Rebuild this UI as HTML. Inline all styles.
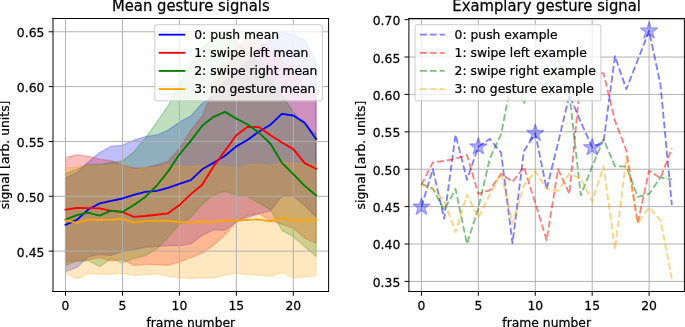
<!DOCTYPE html>
<html><head><meta charset="utf-8"><title>Gesture signals</title>
<style>html,body{margin:0;padding:0;background:#fff;}body{width:685px;height:327px;overflow:hidden;}svg{display:block;}svg text{stroke:#000;stroke-width:0.2px;}</style>
</head><body>
<svg width="685" height="327" viewBox="0 0 554.65587 264.777328" version="1.1">
 
 <defs>
  <style type="text/css">*{stroke-linejoin: round; stroke-linecap: butt}</style>
 </defs>
 <g id="figure_1">
  <g id="patch_1">
   <path d="M 0 264.777328 
L 554.65587 264.777328 
L 554.65587 0 
L 0 0 
z
" style="fill: #ffffff"/>
  </g>
  <g id="axes_1">
   <g id="patch_2">
    <path d="M 42.91498 236.032389 
L 266.072874 236.032389 
L 266.072874 14.979757 
L 42.91498 14.979757 
z
" style="fill: #ffffff"/>
   </g>
   <g id="FillBetweenPolyCollection_1">
    
    <g clip-path="url(#p7c5475c1c8)">
     <path d="M 53.05852 -120.576366 
L 53.05852 -44.908691 
L 62.279921 -48.194729 
L 71.501322 -56.809476 
L 80.722722 -58.852148 
L 89.944123 -57.96403 
L 99.165523 -60.983632 
L 108.386924 -62.493433 
L 117.608325 -64.624916 
L 126.829725 -65.068976 
L 136.051126 -65.868282 
L 145.272527 -65.868282 
L 154.493927 -67.200459 
L 163.715328 -74.216593 
L 172.936728 -78.834808 
L 182.158129 -78.301937 
L 191.37953 -84.962824 
L 200.60093 -88.604109 
L 209.822331 -91.712523 
L 219.043731 -94.110442 
L 228.265132 -106.011227 
L 237.486533 -106.011227 
L 246.707933 -98.37341 
L 255.929334 -89.048168 
L 255.929334 -215.338583 
L 255.929334 -215.338583 
L 246.707933 -232.301641 
L 237.486533 -236.564609 
L 228.265132 -239.05134 
L 219.043731 -233.545007 
L 209.822331 -224.93026 
L 200.60093 -214.7169 
L 191.37953 -207.523142 
L 182.158129 -199.086019 
L 172.936728 -187.185234 
L 163.715328 -181.14603 
L 154.493927 -170.755047 
L 145.272527 -165.870397 
L 136.051126 -159.475945 
L 126.829725 -155.479413 
L 117.608325 -154.147236 
L 108.386924 -151.305257 
L 99.165523 -147.131102 
L 89.944123 -146.420607 
L 80.722722 -141.269521 
L 71.501322 -133.542892 
L 62.279921 -125.283393 
L 53.05852 -120.576366 
z
" transform="translate(0 264.777328)" style="fill: #0000ff; fill-opacity: 0.25; stroke: #0000ff; stroke-opacity: 0.25; stroke: #0000ff; stroke-opacity: 0.25"/>
    </g>
   </g>
   <g id="FillBetweenPolyCollection_2">
    
    <g clip-path="url(#p7c5475c1c8)">
     <path d="M 53.05852 -137.272989 
L 53.05852 -52.724132 
L 62.279921 -53.61225 
L 71.501322 -54.322745 
L 80.722722 -56.276605 
L 89.944123 -53.345815 
L 99.165523 -54.944428 
L 108.386924 -49.70453 
L 117.608325 -50.770272 
L 126.829725 -50.503836 
L 136.051126 -49.970965 
L 145.272527 -52.724132 
L 154.493927 -56.098981 
L 163.715328 -59.829078 
L 172.936728 -66.134717 
L 182.158129 -74.483029 
L 191.37953 -85.140448 
L 200.60093 -90.380346 
L 209.822331 -91.623711 
L 219.043731 -86.028566 
L 228.265132 -83.186588 
L 237.486533 -80.078174 
L 246.707933 -71.907486 
L 255.929334 -67.644518 
L 255.929334 -188.4286 
L 255.929334 -188.4286 
L 246.707933 -193.402062 
L 237.486533 -207.967201 
L 228.265132 -215.516207 
L 219.043731 -224.575013 
L 209.822331 -231.946394 
L 200.60093 -233.722631 
L 191.37953 -225.463131 
L 182.158129 -210.897992 
L 172.936728 -194.023745 
L 163.715328 -170.666235 
L 154.493927 -159.120698 
L 145.272527 -144.733182 
L 136.051126 -134.164575 
L 126.829725 -131.322597 
L 117.608325 -128.924677 
L 108.386924 -128.747054 
L 99.165523 -131.322597 
L 89.944123 -134.697446 
L 80.722722 -135.852 
L 71.501322 -138.161107 
L 62.279921 -139.404473 
L 53.05852 -137.272989 
z
" transform="translate(0 264.777328)" style="fill: #ff0000; fill-opacity: 0.25; stroke: #ff0000; stroke-opacity: 0.25; stroke: #ff0000; stroke-opacity: 0.25"/>
    </g>
   </g>
   <g id="FillBetweenPolyCollection_3">
    
    <g clip-path="url(#p7c5475c1c8)">
     <path d="M 53.05852 -124.217651 
L 53.05852 -49.615718 
L 62.279921 -53.345815 
L 71.501322 -53.61225 
L 80.722722 -48.816412 
L 89.944123 -55.210863 
L 99.165523 -51.836014 
L 108.386924 -55.477298 
L 117.608325 -57.786406 
L 126.829725 -63.026304 
L 136.051126 -72.529169 
L 145.272527 -83.008964 
L 154.493927 -88.781733 
L 163.715328 -99.35034 
L 172.936728 -106.988157 
L 182.158129 -109.830135 
L 191.37953 -106.988157 
L 200.60093 -105.567168 
L 209.822331 -100.32727 
L 219.043731 -94.643313 
L 228.265132 -78.213126 
L 237.486533 -73.150852 
L 246.707933 -65.157787 
L 255.929334 -57.075911 
L 255.929334 -156.012284 
L 255.929334 -156.012284 
L 246.707933 -163.383665 
L 237.486533 -174.396332 
L 228.265132 -187.629294 
L 219.043731 -202.105621 
L 209.822331 -214.006406 
L 200.60093 -222.443529 
L 191.37953 -230.436593 
L 182.158129 -238.607281 
L 172.936728 -233.456195 
L 163.715328 -226.528873 
L 154.493927 -212.585416 
L 145.272527 -196.6881 
L 136.051126 -179.103358 
L 126.829725 -165.692773 
L 117.608325 -152.815058 
L 108.386924 -141.980016 
L 99.165523 -134.431011 
L 89.944123 -133.365269 
L 80.722722 -131.589032 
L 71.501322 -131.766656 
L 62.279921 -127.947747 
L 53.05852 -124.217651 
z
" transform="translate(0 264.777328)" style="fill: #008000; fill-opacity: 0.25; stroke: #008000; stroke-opacity: 0.25; stroke: #008000; stroke-opacity: 0.25"/>
    </g>
   </g>
   <g id="FillBetweenPolyCollection_4">
    
    <g clip-path="url(#p7c5475c1c8)">
     <path d="M 53.05852 -129.191113 
L 53.05852 -43.576514 
L 62.279921 -39.135923 
L 71.501322 -43.043643 
L 80.722722 -42.777208 
L 89.944123 -42.777208 
L 99.165523 -43.39889 
L 108.386924 -41.711466 
L 117.608325 -42.244337 
L 126.829725 -43.043643 
L 136.051126 -41.089783 
L 145.272527 -39.846417 
L 154.493927 -39.224735 
L 163.715328 -39.935229 
L 172.936728 -39.668794 
L 182.158129 -42.066713 
L 191.37953 -43.576514 
L 200.60093 -42.333148 
L 209.822331 -41.889089 
L 219.043731 -40.912159 
L 228.265132 -43.931761 
L 237.486533 -39.846417 
L 246.707933 -40.556912 
L 255.929334 -41.622654 
L 255.929334 -131.855468 
L 255.929334 -131.855468 
L 246.707933 -132.388339 
L 237.486533 -132.565962 
L 228.265132 -133.098833 
L 219.043731 -130.256855 
L 209.822331 -132.121903 
L 200.60093 -131.144973 
L 191.37953 -128.835866 
L 182.158129 -129.990419 
L 172.936728 -130.256855 
L 163.715328 -130.878538 
L 154.493927 -129.812796 
L 145.272527 -130.434479 
L 136.051126 -130.789726 
L 126.829725 -129.013489 
L 117.608325 -129.279925 
L 108.386924 -127.326065 
L 99.165523 -131.855468 
L 89.944123 -130.700914 
L 80.722722 -130.700914 
L 71.501322 -130.789726 
L 62.279921 -129.368737 
L 53.05852 -129.191113 
z
" transform="translate(0 264.777328)" style="fill: #ffa500; fill-opacity: 0.25; stroke: #ffa500; stroke-opacity: 0.25; stroke: #ffa500; stroke-opacity: 0.25"/>
    </g>
   </g>
   <g id="matplotlib.axis_1">
    <g id="xtick_1">
     <g id="line2d_1">
      <path d="M 53.05852 236.032389 
L 53.05852 14.979757 
" clip-path="url(#p7c5475c1c8)" style="fill: none; stroke: #b0b0b0; stroke-width: 0.8; stroke-linecap: square"/>
     </g>
     <g id="line2d_2">
      
      <g>
       <path d="M 0 0 
L 0 3.5 
" transform="translate(53.05852 236.032389)" style="stroke: #000000; stroke-width: 0.8; stroke: #000000; stroke-width: 0.8"/>
      </g>
     </g>
     <g id="text_1">
      <text style="font-size: 10px; font-family: 'DejaVu Sans', 'Liberation Sans', sans-serif; text-anchor: middle" x="53.05852" y="250.630826" transform="translate(53.05852 250.630826) rotate(-0) scale(1 1.05) translate(-53.05852 -250.630826)">0</text>
     </g>
    </g>
    <g id="xtick_2">
     <g id="line2d_3">
      <path d="M 99.165523 236.032389 
L 99.165523 14.979757 
" clip-path="url(#p7c5475c1c8)" style="fill: none; stroke: #b0b0b0; stroke-width: 0.8; stroke-linecap: square"/>
     </g>
     <g id="line2d_4">
      <g>
       <path d="M 0 0 
L 0 3.5 
" transform="translate(99.165523 236.032389)" style="stroke: #000000; stroke-width: 0.8; stroke: #000000; stroke-width: 0.8"/>
      </g>
     </g>
     <g id="text_2">
      <text style="font-size: 10px; font-family: 'DejaVu Sans', 'Liberation Sans', sans-serif; text-anchor: middle" x="99.165523" y="250.630826" transform="translate(99.165523 250.630826) rotate(-0) scale(1 1.05) translate(-99.165523 -250.630826)">5</text>
     </g>
    </g>
    <g id="xtick_3">
     <g id="line2d_5">
      <path d="M 145.272527 236.032389 
L 145.272527 14.979757 
" clip-path="url(#p7c5475c1c8)" style="fill: none; stroke: #b0b0b0; stroke-width: 0.8; stroke-linecap: square"/>
     </g>
     <g id="line2d_6">
      <g>
       <path d="M 0 0 
L 0 3.5 
" transform="translate(145.272527 236.032389)" style="stroke: #000000; stroke-width: 0.8; stroke: #000000; stroke-width: 0.8"/>
      </g>
     </g>
     <g id="text_3">
      <text style="font-size: 10px; font-family: 'DejaVu Sans', 'Liberation Sans', sans-serif; text-anchor: middle" x="145.272527" y="250.630826" transform="translate(145.272527 250.630826) rotate(-0) scale(1 1.05) translate(-145.272527 -250.630826)">10</text>
     </g>
    </g>
    <g id="xtick_4">
     <g id="line2d_7">
      <path d="M 191.37953 236.032389 
L 191.37953 14.979757 
" clip-path="url(#p7c5475c1c8)" style="fill: none; stroke: #b0b0b0; stroke-width: 0.8; stroke-linecap: square"/>
     </g>
     <g id="line2d_8">
      <g>
       <path d="M 0 0 
L 0 3.5 
" transform="translate(191.37953 236.032389)" style="stroke: #000000; stroke-width: 0.8; stroke: #000000; stroke-width: 0.8"/>
      </g>
     </g>
     <g id="text_4">
      <text style="font-size: 10px; font-family: 'DejaVu Sans', 'Liberation Sans', sans-serif; text-anchor: middle" x="191.37953" y="250.630826" transform="translate(191.37953 250.630826) rotate(-0) scale(1 1.05) translate(-191.37953 -250.630826)">15</text>
     </g>
    </g>
    <g id="xtick_5">
     <g id="line2d_9">
      <path d="M 237.486533 236.032389 
L 237.486533 14.979757 
" clip-path="url(#p7c5475c1c8)" style="fill: none; stroke: #b0b0b0; stroke-width: 0.8; stroke-linecap: square"/>
     </g>
     <g id="line2d_10">
      <g>
       <path d="M 0 0 
L 0 3.5 
" transform="translate(237.486533 236.032389)" style="stroke: #000000; stroke-width: 0.8; stroke: #000000; stroke-width: 0.8"/>
      </g>
     </g>
     <g id="text_5">
      <text style="font-size: 10px; font-family: 'DejaVu Sans', 'Liberation Sans', sans-serif; text-anchor: middle" x="237.486533" y="250.630826" transform="translate(237.486533 250.630826) rotate(-0) scale(1 1.05) translate(-237.486533 -250.630826)">20</text>
     </g>
    </g>
    <g id="text_6">
     <text style="font-size: 10px; font-family: 'DejaVu Sans', 'Liberation Sans', sans-serif; text-anchor: middle" x="154.493927" y="265.118668" transform="translate(154.493927 265.118668) rotate(-0) scale(1 1.05) translate(-154.493927 -265.118668)">frame number</text>
    </g>
   </g>
   <g id="matplotlib.axis_2">
    <g id="ytick_1">
     <g id="line2d_11">
      <path d="M 42.91498 203.349637 
L 266.072874 203.349637 
" clip-path="url(#p7c5475c1c8)" style="fill: none; stroke: #b0b0b0; stroke-width: 0.8; stroke-linecap: square"/>
     </g>
     <g id="line2d_12">
      
      <g>
       <path d="M 0 0 
L -3.5 0 
" transform="translate(42.91498 203.349637)" style="stroke: #000000; stroke-width: 0.8; stroke: #000000; stroke-width: 0.8"/>
      </g>
     </g>
     <g id="text_7">
      <text style="font-size: 10px; font-family: 'DejaVu Sans', 'Liberation Sans', sans-serif; text-anchor: end" x="35.91498" y="207.148856" transform="translate(0 0.647773) translate(35.91498 207.148856) rotate(-0) scale(1 1.05) translate(-35.91498 -207.148856)">0.45</text>
     </g>
    </g>
    <g id="ytick_2">
     <g id="line2d_13">
      <path d="M 42.91498 158.943725 
L 266.072874 158.943725 
" clip-path="url(#p7c5475c1c8)" style="fill: none; stroke: #b0b0b0; stroke-width: 0.8; stroke-linecap: square"/>
     </g>
     <g id="line2d_14">
      <g>
       <path d="M 0 0 
L -3.5 0 
" transform="translate(42.91498 158.943725)" style="stroke: #000000; stroke-width: 0.8; stroke: #000000; stroke-width: 0.8"/>
      </g>
     </g>
     <g id="text_8">
      <text style="font-size: 10px; font-family: 'DejaVu Sans', 'Liberation Sans', sans-serif; text-anchor: end" x="35.91498" y="162.742944" transform="translate(0 0.647773) translate(35.91498 162.742944) rotate(-0) scale(1 1.05) translate(-35.91498 -162.742944)">0.50</text>
     </g>
    </g>
    <g id="ytick_3">
     <g id="line2d_15">
      <path d="M 42.91498 114.537813 
L 266.072874 114.537813 
" clip-path="url(#p7c5475c1c8)" style="fill: none; stroke: #b0b0b0; stroke-width: 0.8; stroke-linecap: square"/>
     </g>
     <g id="line2d_16">
      <g>
       <path d="M 0 0 
L -3.5 0 
" transform="translate(42.91498 114.537813)" style="stroke: #000000; stroke-width: 0.8; stroke: #000000; stroke-width: 0.8"/>
      </g>
     </g>
     <g id="text_9">
      <text style="font-size: 10px; font-family: 'DejaVu Sans', 'Liberation Sans', sans-serif; text-anchor: end" x="35.91498" y="118.337031" transform="translate(0 0.647773) translate(35.91498 118.337031) rotate(-0) scale(1 1.05) translate(-35.91498 -118.337031)">0.55</text>
     </g>
    </g>
    <g id="ytick_4">
     <g id="line2d_17">
      <path d="M 42.91498 70.1319 
L 266.072874 70.1319 
" clip-path="url(#p7c5475c1c8)" style="fill: none; stroke: #b0b0b0; stroke-width: 0.8; stroke-linecap: square"/>
     </g>
     <g id="line2d_18">
      <g>
       <path d="M 0 0 
L -3.5 0 
" transform="translate(42.91498 70.1319)" style="stroke: #000000; stroke-width: 0.8; stroke: #000000; stroke-width: 0.8"/>
      </g>
     </g>
     <g id="text_10">
      <text style="font-size: 10px; font-family: 'DejaVu Sans', 'Liberation Sans', sans-serif; text-anchor: end" x="35.91498" y="73.931119" transform="translate(0 0.647773) translate(35.91498 73.931119) rotate(-0) scale(1 1.05) translate(-35.91498 -73.931119)">0.60</text>
     </g>
    </g>
    <g id="ytick_5">
     <g id="line2d_19">
      <path d="M 42.91498 25.725988 
L 266.072874 25.725988 
" clip-path="url(#p7c5475c1c8)" style="fill: none; stroke: #b0b0b0; stroke-width: 0.8; stroke-linecap: square"/>
     </g>
     <g id="line2d_20">
      <g>
       <path d="M 0 0 
L -3.5 0 
" transform="translate(42.91498 25.725988)" style="stroke: #000000; stroke-width: 0.8; stroke: #000000; stroke-width: 0.8"/>
      </g>
     </g>
     <g id="text_11">
      <text style="font-size: 10px; font-family: 'DejaVu Sans', 'Liberation Sans', sans-serif; text-anchor: end" x="35.91498" y="29.525207" transform="translate(0 0.647773) translate(35.91498 29.525207) rotate(-0) scale(1 1.05) translate(-35.91498 -29.525207)">0.65</text>
     </g>
    </g>
    <g id="text_12">
     <text style="font-size: 10px; font-family: 'DejaVu Sans', 'Liberation Sans', sans-serif; text-anchor: middle" x="7.569667" y="125.506073" transform="translate(7.569667 125.506073) rotate(-90) scale(1 1.05) translate(-7.569667 -125.506073)">signal [arb. units]</text>
    </g>
   </g>
   <g id="line2d_21">
    <path d="M 53.05852 182.034799 
L 62.279921 178.038267 
L 71.501322 169.601144 
L 80.722722 164.716493 
L 89.944123 162.58501 
L 99.165523 160.719961 
L 108.386924 157.877983 
L 117.608325 155.391252 
L 126.829725 154.503134 
L 136.051126 152.105214 
L 145.272527 148.907989 
L 154.493927 145.799575 
L 163.715328 137.096016 
L 172.936728 131.767307 
L 182.158129 126.08335 
L 191.37953 118.534345 
L 200.60093 113.116823 
L 209.822331 106.455936 
L 219.043731 100.949603 
L 228.265132 92.246045 
L 237.486533 93.48941 
L 246.707933 99.439802 
L 255.929334 112.583952 
" clip-path="url(#p7c5475c1c8)" style="fill: none; stroke: #0000ff; stroke-width: 1.5; stroke-linecap: square"/>
   </g>
   <g id="line2d_22">
    <path d="M 53.05852 169.778767 
L 62.279921 168.268966 
L 71.501322 168.535402 
L 80.722722 168.713026 
L 89.944123 170.755698 
L 99.165523 171.643816 
L 108.386924 175.551536 
L 117.608325 174.929853 
L 126.829725 173.864111 
L 136.051126 172.709558 
L 145.272527 166.048671 
L 154.493927 157.167488 
L 163.715328 149.529671 
L 172.936728 134.698097 
L 182.158129 122.086818 
L 191.37953 109.475539 
L 200.60093 102.72584 
L 209.822331 102.992275 
L 219.043731 109.475539 
L 228.265132 115.425931 
L 237.486533 120.75464 
L 246.707933 132.122554 
L 255.929334 136.740769 
" clip-path="url(#p7c5475c1c8)" style="fill: none; stroke: #ff0000; stroke-width: 1.5; stroke-linecap: square"/>
   </g>
   <g id="line2d_23">
    <path d="M 53.05852 177.860644 
L 62.279921 174.130547 
L 71.501322 172.087875 
L 80.722722 174.574606 
L 89.944123 170.489262 
L 99.165523 171.643816 
L 108.386924 166.048671 
L 117.608325 159.476596 
L 126.829725 150.41779 
L 136.051126 138.961064 
L 145.272527 124.928796 
L 154.493927 114.093753 
L 163.715328 101.837722 
L 172.936728 94.555152 
L 182.158129 90.55862 
L 191.37953 96.064953 
L 200.60093 100.77198 
L 209.822331 107.61049 
L 219.043731 116.402861 
L 228.265132 131.856118 
L 237.486533 141.003736 
L 246.707933 150.506602 
L 255.929334 158.23323 
" clip-path="url(#p7c5475c1c8)" style="fill: none; stroke: #008000; stroke-width: 1.5; stroke-linecap: square"/>
   </g>
   <g id="line2d_24">
    <path d="M 53.05852 178.393514 
L 62.279921 180.524998 
L 71.501322 177.860644 
L 80.722722 178.038267 
L 89.944123 178.038267 
L 99.165523 177.150149 
L 108.386924 180.258563 
L 117.608325 179.015197 
L 126.829725 178.748762 
L 136.051126 178.837574 
L 145.272527 179.63688 
L 154.493927 180.258563 
L 163.715328 179.370445 
L 172.936728 179.814504 
L 182.158129 178.748762 
L 191.37953 178.571138 
L 200.60093 178.038267 
L 209.822331 177.771832 
L 219.043731 179.192821 
L 228.265132 176.262031 
L 237.486533 178.571138 
L 246.707933 178.304703 
L 255.929334 178.038267 
" clip-path="url(#p7c5475c1c8)" style="fill: none; stroke: #ffa500; stroke-width: 1.5; stroke-linecap: square"/>
   </g>
   <g id="patch_3">
    <path d="M 42.91498 236.032389 
L 42.91498 14.979757 
" style="fill: none; stroke: #000000; stroke-width: 0.8; stroke-linejoin: miter; stroke-linecap: square"/>
   </g>
   <g id="patch_4">
    <path d="M 266.072874 236.032389 
L 266.072874 14.979757 
" style="fill: none; stroke: #000000; stroke-width: 0.8; stroke-linejoin: miter; stroke-linecap: square"/>
   </g>
   <g id="patch_5">
    <path d="M 42.91498 236.032389 
L 266.072874 236.032389 
" style="fill: none; stroke: #000000; stroke-width: 0.8; stroke-linejoin: miter; stroke-linecap: square"/>
   </g>
   <g id="patch_6">
    <path d="M 42.91498 14.979757 
L 266.072874 14.979757 
" style="fill: none; stroke: #000000; stroke-width: 0.8; stroke-linejoin: miter; stroke-linecap: square"/>
   </g>
   <g id="text_13">
    <text style="font-size: 12px; font-family: 'DejaVu Sans', 'Liberation Sans', sans-serif; text-anchor: middle" x="154.493927" y="8.979757" transform="translate(154.493927 8.979757) rotate(-0) scale(1 1.05) translate(-154.493927 -8.979757)">Mean gesture signals</text>
   </g>
   <g id="legend_1">
    <g id="patch_7">
     <path d="M 127.285374 81.692257 
L 259.072874 81.692257 
Q 261.072874 81.692257 261.072874 79.692257 
L 261.072874 21.979757 
Q 261.072874 19.979757 259.072874 19.979757 
L 127.285374 19.979757 
Q 125.285374 19.979757 125.285374 21.979757 
L 125.285374 79.692257 
Q 125.285374 81.692257 127.285374 81.692257 
z
" style="fill: #ffffff; opacity: 0.8; stroke: #cccccc; stroke-linejoin: miter"/>
    </g>
    <g id="line2d_25">
     <path d="M 129.285374 28.078195 
L 139.285374 28.078195 
L 149.285374 28.078195 
" style="fill: none; stroke: #0000ff; stroke-width: 1.5; stroke-linecap: square"/>
    </g>
    <g id="text_14">
     <text style="font-size: 10px; font-family: 'DejaVu Sans', 'Liberation Sans', sans-serif; text-anchor: start" x="157.285374" y="31.578195" transform="rotate(-0 157.285374 31.578195)">0: push mean</text>
    </g>
    <g id="line2d_26">
     <path d="M 129.285374 42.75632 
L 139.285374 42.75632 
L 149.285374 42.75632 
" style="fill: none; stroke: #ff0000; stroke-width: 1.5; stroke-linecap: square"/>
    </g>
    <g id="text_15">
     <text style="font-size: 10px; font-family: 'DejaVu Sans', 'Liberation Sans', sans-serif; text-anchor: start" x="157.285374" y="46.25632" transform="rotate(-0 157.285374 46.25632)">1: swipe left mean</text>
    </g>
    <g id="line2d_27">
     <path d="M 129.285374 57.434445 
L 139.285374 57.434445 
L 149.285374 57.434445 
" style="fill: none; stroke: #008000; stroke-width: 1.5; stroke-linecap: square"/>
    </g>
    <g id="text_16">
     <text style="font-size: 10px; font-family: 'DejaVu Sans', 'Liberation Sans', sans-serif; text-anchor: start" x="157.285374" y="60.934445" transform="rotate(-0 157.285374 60.934445)">2: swipe right mean</text>
    </g>
    <g id="line2d_28">
     <path d="M 129.285374 72.11257 
L 139.285374 72.11257 
L 149.285374 72.11257 
" style="fill: none; stroke: #ffa500; stroke-width: 1.5; stroke-linecap: square"/>
    </g>
    <g id="text_17">
     <text style="font-size: 10px; font-family: 'DejaVu Sans', 'Liberation Sans', sans-serif; text-anchor: start" x="157.285374" y="75.61257" transform="rotate(-0 157.285374 75.61257)">3: no gesture mean</text>
    </g>
   </g>
  </g>
  <g id="axes_2">
   <g id="patch_8">
    <path d="M 331.093117 236.032389 
L 554.17004 236.032389 
L 554.17004 14.979757 
L 331.093117 14.979757 
z
" style="fill: #ffffff"/>
   </g>
   <g id="matplotlib.axis_3">
    <g id="xtick_6">
     <g id="line2d_29">
      <path d="M 341.232978 236.032389 
L 341.232978 14.979757 
" clip-path="url(#p5860978ac2)" style="fill: none; stroke: #b0b0b0; stroke-width: 0.8; stroke-linecap: square"/>
     </g>
     <g id="line2d_30">
      <g>
       <path d="M 0 0 
L 0 3.5 
" transform="translate(341.232978 236.032389)" style="stroke: #000000; stroke-width: 0.8; stroke: #000000; stroke-width: 0.8"/>
      </g>
     </g>
     <g id="text_18">
      <text style="font-size: 10px; font-family: 'DejaVu Sans', 'Liberation Sans', sans-serif; text-anchor: middle" x="341.232978" y="250.630826" transform="translate(341.232978 250.630826) rotate(-0) scale(1 1.05) translate(-341.232978 -250.630826)">0</text>
     </g>
    </g>
    <g id="xtick_7">
     <g id="line2d_31">
      <path d="M 387.323251 236.032389 
L 387.323251 14.979757 
" clip-path="url(#p5860978ac2)" style="fill: none; stroke: #b0b0b0; stroke-width: 0.8; stroke-linecap: square"/>
     </g>
     <g id="line2d_32">
      <g>
       <path d="M 0 0 
L 0 3.5 
" transform="translate(387.323251 236.032389)" style="stroke: #000000; stroke-width: 0.8; stroke: #000000; stroke-width: 0.8"/>
      </g>
     </g>
     <g id="text_19">
      <text style="font-size: 10px; font-family: 'DejaVu Sans', 'Liberation Sans', sans-serif; text-anchor: middle" x="387.323251" y="250.630826" transform="translate(387.323251 250.630826) rotate(-0) scale(1 1.05) translate(-387.323251 -250.630826)">5</text>
     </g>
    </g>
    <g id="xtick_8">
     <g id="line2d_33">
      <path d="M 433.413524 236.032389 
L 433.413524 14.979757 
" clip-path="url(#p5860978ac2)" style="fill: none; stroke: #b0b0b0; stroke-width: 0.8; stroke-linecap: square"/>
     </g>
     <g id="line2d_34">
      <g>
       <path d="M 0 0 
L 0 3.5 
" transform="translate(433.413524 236.032389)" style="stroke: #000000; stroke-width: 0.8; stroke: #000000; stroke-width: 0.8"/>
      </g>
     </g>
     <g id="text_20">
      <text style="font-size: 10px; font-family: 'DejaVu Sans', 'Liberation Sans', sans-serif; text-anchor: middle" x="433.413524" y="250.630826" transform="translate(433.413524 250.630826) rotate(-0) scale(1 1.05) translate(-433.413524 -250.630826)">10</text>
     </g>
    </g>
    <g id="xtick_9">
     <g id="line2d_35">
      <path d="M 479.503798 236.032389 
L 479.503798 14.979757 
" clip-path="url(#p5860978ac2)" style="fill: none; stroke: #b0b0b0; stroke-width: 0.8; stroke-linecap: square"/>
     </g>
     <g id="line2d_36">
      <g>
       <path d="M 0 0 
L 0 3.5 
" transform="translate(479.503798 236.032389)" style="stroke: #000000; stroke-width: 0.8; stroke: #000000; stroke-width: 0.8"/>
      </g>
     </g>
     <g id="text_21">
      <text style="font-size: 10px; font-family: 'DejaVu Sans', 'Liberation Sans', sans-serif; text-anchor: middle" x="479.503798" y="250.630826" transform="translate(479.503798 250.630826) rotate(-0) scale(1 1.05) translate(-479.503798 -250.630826)">15</text>
     </g>
    </g>
    <g id="xtick_10">
     <g id="line2d_37">
      <path d="M 525.594071 236.032389 
L 525.594071 14.979757 
" clip-path="url(#p5860978ac2)" style="fill: none; stroke: #b0b0b0; stroke-width: 0.8; stroke-linecap: square"/>
     </g>
     <g id="line2d_38">
      <g>
       <path d="M 0 0 
L 0 3.5 
" transform="translate(525.594071 236.032389)" style="stroke: #000000; stroke-width: 0.8; stroke: #000000; stroke-width: 0.8"/>
      </g>
     </g>
     <g id="text_22">
      <text style="font-size: 10px; font-family: 'DejaVu Sans', 'Liberation Sans', sans-serif; text-anchor: middle" x="525.594071" y="250.630826" transform="translate(525.594071 250.630826) rotate(-0) scale(1 1.05) translate(-525.594071 -250.630826)">20</text>
     </g>
    </g>
    <g id="text_23">
     <text style="font-size: 10px; font-family: 'DejaVu Sans', 'Liberation Sans', sans-serif; text-anchor: middle" x="442.631579" y="265.118668" transform="translate(442.631579 265.118668) rotate(-0) scale(1 1.05) translate(-442.631579 -265.118668)">frame number</text>
    </g>
   </g>
   <g id="matplotlib.axis_4">
    <g id="ytick_6">
     <g id="line2d_39">
      <path d="M 331.093117 227.856469 
L 554.17004 227.856469 
" clip-path="url(#p5860978ac2)" style="fill: none; stroke: #b0b0b0; stroke-width: 0.8; stroke-linecap: square"/>
     </g>
     <g id="line2d_40">
      <g>
       <path d="M 0 0 
L -3.5 0 
" transform="translate(331.093117 227.856469)" style="stroke: #000000; stroke-width: 0.8; stroke: #000000; stroke-width: 0.8"/>
      </g>
     </g>
     <g id="text_24">
      <text style="font-size: 10px; font-family: 'DejaVu Sans', 'Liberation Sans', sans-serif; text-anchor: end" x="324.093117" y="231.655688" transform="translate(0 0.647773) translate(324.093117 231.655688) rotate(-0) scale(1 1.05) translate(-324.093117 -231.655688)">0.35</text>
     </g>
    </g>
    <g id="ytick_7">
     <g id="line2d_41">
      <path d="M 331.093117 197.575287 
L 554.17004 197.575287 
" clip-path="url(#p5860978ac2)" style="fill: none; stroke: #b0b0b0; stroke-width: 0.8; stroke-linecap: square"/>
     </g>
     <g id="line2d_42">
      <g>
       <path d="M 0 0 
L -3.5 0 
" transform="translate(331.093117 197.575287)" style="stroke: #000000; stroke-width: 0.8; stroke: #000000; stroke-width: 0.8"/>
      </g>
     </g>
     <g id="text_25">
      <text style="font-size: 10px; font-family: 'DejaVu Sans', 'Liberation Sans', sans-serif; text-anchor: end" x="324.093117" y="201.374506" transform="translate(0 0.647773) translate(324.093117 201.374506) rotate(-0) scale(1 1.05) translate(-324.093117 -201.374506)">0.40</text>
     </g>
    </g>
    <g id="ytick_8">
     <g id="line2d_43">
      <path d="M 331.093117 167.294105 
L 554.17004 167.294105 
" clip-path="url(#p5860978ac2)" style="fill: none; stroke: #b0b0b0; stroke-width: 0.8; stroke-linecap: square"/>
     </g>
     <g id="line2d_44">
      <g>
       <path d="M 0 0 
L -3.5 0 
" transform="translate(331.093117 167.294105)" style="stroke: #000000; stroke-width: 0.8; stroke: #000000; stroke-width: 0.8"/>
      </g>
     </g>
     <g id="text_26">
      <text style="font-size: 10px; font-family: 'DejaVu Sans', 'Liberation Sans', sans-serif; text-anchor: end" x="324.093117" y="171.093323" transform="translate(0 0.647773) translate(324.093117 171.093323) rotate(-0) scale(1 1.05) translate(-324.093117 -171.093323)">0.45</text>
     </g>
    </g>
    <g id="ytick_9">
     <g id="line2d_45">
      <path d="M 331.093117 137.012922 
L 554.17004 137.012922 
" clip-path="url(#p5860978ac2)" style="fill: none; stroke: #b0b0b0; stroke-width: 0.8; stroke-linecap: square"/>
     </g>
     <g id="line2d_46">
      <g>
       <path d="M 0 0 
L -3.5 0 
" transform="translate(331.093117 137.012922)" style="stroke: #000000; stroke-width: 0.8; stroke: #000000; stroke-width: 0.8"/>
      </g>
     </g>
     <g id="text_27">
      <text style="font-size: 10px; font-family: 'DejaVu Sans', 'Liberation Sans', sans-serif; text-anchor: end" x="324.093117" y="140.812141" transform="translate(0 0.647773) translate(324.093117 140.812141) rotate(-0) scale(1 1.05) translate(-324.093117 -140.812141)">0.50</text>
     </g>
    </g>
    <g id="ytick_10">
     <g id="line2d_47">
      <path d="M 331.093117 106.73174 
L 554.17004 106.73174 
" clip-path="url(#p5860978ac2)" style="fill: none; stroke: #b0b0b0; stroke-width: 0.8; stroke-linecap: square"/>
     </g>
     <g id="line2d_48">
      <g>
       <path d="M 0 0 
L -3.5 0 
" transform="translate(331.093117 106.73174)" style="stroke: #000000; stroke-width: 0.8; stroke: #000000; stroke-width: 0.8"/>
      </g>
     </g>
     <g id="text_28">
      <text style="font-size: 10px; font-family: 'DejaVu Sans', 'Liberation Sans', sans-serif; text-anchor: end" x="324.093117" y="110.530959" transform="translate(0 0.647773) translate(324.093117 110.530959) rotate(-0) scale(1 1.05) translate(-324.093117 -110.530959)">0.55</text>
     </g>
    </g>
    <g id="ytick_11">
     <g id="line2d_49">
      <path d="M 331.093117 76.450557 
L 554.17004 76.450557 
" clip-path="url(#p5860978ac2)" style="fill: none; stroke: #b0b0b0; stroke-width: 0.8; stroke-linecap: square"/>
     </g>
     <g id="line2d_50">
      <g>
       <path d="M 0 0 
L -3.5 0 
" transform="translate(331.093117 76.450557)" style="stroke: #000000; stroke-width: 0.8; stroke: #000000; stroke-width: 0.8"/>
      </g>
     </g>
     <g id="text_29">
      <text style="font-size: 10px; font-family: 'DejaVu Sans', 'Liberation Sans', sans-serif; text-anchor: end" x="324.093117" y="80.249776" transform="translate(0 0.647773) translate(324.093117 80.249776) rotate(-0) scale(1 1.05) translate(-324.093117 -80.249776)">0.60</text>
     </g>
    </g>
    <g id="ytick_12">
     <g id="line2d_51">
      <path d="M 331.093117 46.169375 
L 554.17004 46.169375 
" clip-path="url(#p5860978ac2)" style="fill: none; stroke: #b0b0b0; stroke-width: 0.8; stroke-linecap: square"/>
     </g>
     <g id="line2d_52">
      <g>
       <path d="M 0 0 
L -3.5 0 
" transform="translate(331.093117 46.169375)" style="stroke: #000000; stroke-width: 0.8; stroke: #000000; stroke-width: 0.8"/>
      </g>
     </g>
     <g id="text_30">
      <text style="font-size: 10px; font-family: 'DejaVu Sans', 'Liberation Sans', sans-serif; text-anchor: end" x="324.093117" y="49.968594" transform="translate(0 0.647773) translate(324.093117 49.968594) rotate(-0) scale(1 1.05) translate(-324.093117 -49.968594)">0.65</text>
     </g>
    </g>
    <g id="ytick_13">
     <g id="line2d_53">
      <path d="M 331.093117 15.888193 
L 554.17004 15.888193 
" clip-path="url(#p5860978ac2)" style="fill: none; stroke: #b0b0b0; stroke-width: 0.8; stroke-linecap: square"/>
     </g>
     <g id="line2d_54">
      <g>
       <path d="M 0 0 
L -3.5 0 
" transform="translate(331.093117 15.888193)" style="stroke: #000000; stroke-width: 0.8; stroke: #000000; stroke-width: 0.8"/>
      </g>
     </g>
     <g id="text_31">
      <text style="font-size: 10px; font-family: 'DejaVu Sans', 'Liberation Sans', sans-serif; text-anchor: end" x="324.093117" y="19.687411" transform="translate(0 0.647773) translate(324.093117 19.687411) rotate(-0) scale(1 1.05) translate(-324.093117 -19.687411)">0.70</text>
     </g>
    </g>
    <g id="text_32">
     <text style="font-size: 10px; font-family: 'DejaVu Sans', 'Liberation Sans', sans-serif; text-anchor: middle" x="295.747805" y="125.506073" transform="translate(295.747805 125.506073) rotate(-90) scale(1 1.05) translate(-295.747805 -125.506073)">signal [arb. units]</text>
    </g>
   </g>
   <g id="line2d_55">
    <path d="M 341.232978 167.596916 
L 350.451032 137.012922 
L 359.669087 176.984083 
L 368.887142 109.154234 
L 378.105196 145.491653 
L 387.323251 118.844213 
L 396.541306 112.485164 
L 405.75936 123.689202 
L 414.977415 196.969663 
L 424.19547 122.477955 
L 433.413524 107.942987 
L 442.631579 153.061949 
L 451.849634 115.816095 
L 461.067688 77.056181 
L 470.285743 98.858632 
L 479.503798 119.449836 
L 488.721852 114.604847 
L 497.939907 45.563751 
L 507.157962 72.211192 
L 516.376016 48.59187 
L 525.594071 24.972547 
L 534.812126 68.57745 
L 544.03018 166.082857 
" clip-path="url(#p5860978ac2)" style="fill: none; stroke-dasharray: 5.55,2.4; stroke-dashoffset: 0; stroke: #0000ff; stroke-opacity: 0.5; stroke-width: 1.5"/>
   </g>
   <g id="line2d_56">
    <path d="M 341.232978 149.731019 
L 350.451032 131.562309 
L 359.669087 130.351062 
L 368.887142 128.534191 
L 378.105196 125.506073 
L 387.323251 156.998503 
L 396.541306 153.970384 
L 405.75936 140.646664 
L 414.977415 147.308524 
L 424.19547 135.196051 
L 433.413524 164.265986 
L 442.631579 194.547169 
L 451.849634 137.012922 
L 461.067688 156.998503 
L 470.285743 61.309966 
L 479.503798 57.676224 
L 488.721852 59.493095 
L 497.939907 97.647385 
L 507.157962 121.872331 
L 516.376016 180.617825 
L 525.594071 138.224169 
L 534.812126 144.280406 
L 544.03018 120.05546 
" clip-path="url(#p5860978ac2)" style="fill: none; stroke-dasharray: 5.55,2.4; stroke-dashoffset: 0; stroke: #ff0000; stroke-opacity: 0.5; stroke-width: 1.5"/>
   </g>
   <g id="line2d_57">
    <path d="M 341.232978 148.822583 
L 350.451032 152.759137 
L 359.669087 170.079973 
L 368.887142 153.061949 
L 378.105196 197.575287 
L 387.323251 168.505352 
L 396.541306 128.534191 
L 405.75936 108.548611 
L 414.977415 60.704343 
L 424.19547 84.323665 
L 433.413524 57.676224 
L 442.631579 67.366203 
L 451.849634 46.169375 
L 461.067688 76.450557 
L 470.285743 158.20975 
L 479.503798 134.832677 
L 488.721852 112.787976 
L 497.939907 134.590428 
L 507.157962 134.832677 
L 516.376016 159.420997 
L 525.594071 156.998503 
L 534.812126 143.674782 
L 544.03018 145.188841 
" clip-path="url(#p5860978ac2)" style="fill: none; stroke-dasharray: 5.55,2.4; stroke-dashoffset: 0; stroke: #008000; stroke-opacity: 0.5; stroke-width: 1.5"/>
   </g>
   <g id="line2d_58">
    <path d="M 341.232978 149.428207 
L 350.451032 152.759137 
L 359.669087 162.449115 
L 368.887142 187.885309 
L 378.105196 157.604126 
L 387.323251 176.378459 
L 396.541306 157.604126 
L 405.75936 140.28329 
L 414.977415 180.920637 
L 424.19547 150.336642 
L 433.413524 138.526981 
L 442.631579 153.122511 
L 451.849634 154.394321 
L 461.067688 140.646664 
L 470.285743 144.88603 
L 479.503798 163.054739 
L 488.721852 134.590428 
L 497.939907 201.814653 
L 507.157962 127.928567 
L 516.376016 180.617825 
L 525.594071 167.899728 
L 534.812126 178.19533 
L 544.03018 225.615662 
" clip-path="url(#p5860978ac2)" style="fill: none; stroke-dasharray: 5.55,2.4; stroke-dashoffset: 0; stroke: #ffa500; stroke-opacity: 0.5; stroke-width: 1.5"/>
   </g>
   <g id="line2d_59">
    
    <g clip-path="url(#p5860978ac2)">
     <path d="M 0 -7.5 
L -1.683855 -2.317627 
L -7.132924 -2.317627 
L -2.724534 0.885255 
L -4.408389 6.067627 
L -0 2.864745 
L 4.408389 6.067627 
L 2.724534 0.885255 
L 7.132924 -2.317627 
L 1.683855 -2.317627 
z
" transform="translate(341.232978 167.596916)" style="fill: #0000ff; fill-opacity: 0.3; stroke: #0000ff; stroke-opacity: 0.3; stroke-linejoin: bevel; stroke: #0000ff; stroke-opacity: 0.3; stroke-linejoin: bevel"/>
     <path d="M 0 -7.5 
L -1.683855 -2.317627 
L -7.132924 -2.317627 
L -2.724534 0.885255 
L -4.408389 6.067627 
L -0 2.864745 
L 4.408389 6.067627 
L 2.724534 0.885255 
L 7.132924 -2.317627 
L 1.683855 -2.317627 
z
" transform="translate(387.323251 118.844213)" style="fill: #0000ff; fill-opacity: 0.3; stroke: #0000ff; stroke-opacity: 0.3; stroke-linejoin: bevel; stroke: #0000ff; stroke-opacity: 0.3; stroke-linejoin: bevel"/>
     <path d="M 0 -7.5 
L -1.683855 -2.317627 
L -7.132924 -2.317627 
L -2.724534 0.885255 
L -4.408389 6.067627 
L -0 2.864745 
L 4.408389 6.067627 
L 2.724534 0.885255 
L 7.132924 -2.317627 
L 1.683855 -2.317627 
z
" transform="translate(433.413524 107.942987)" style="fill: #0000ff; fill-opacity: 0.3; stroke: #0000ff; stroke-opacity: 0.3; stroke-linejoin: bevel; stroke: #0000ff; stroke-opacity: 0.3; stroke-linejoin: bevel"/>
     <path d="M 0 -7.5 
L -1.683855 -2.317627 
L -7.132924 -2.317627 
L -2.724534 0.885255 
L -4.408389 6.067627 
L -0 2.864745 
L 4.408389 6.067627 
L 2.724534 0.885255 
L 7.132924 -2.317627 
L 1.683855 -2.317627 
z
" transform="translate(479.503798 119.449836)" style="fill: #0000ff; fill-opacity: 0.3; stroke: #0000ff; stroke-opacity: 0.3; stroke-linejoin: bevel; stroke: #0000ff; stroke-opacity: 0.3; stroke-linejoin: bevel"/>
     <path d="M 0 -7.5 
L -1.683855 -2.317627 
L -7.132924 -2.317627 
L -2.724534 0.885255 
L -4.408389 6.067627 
L -0 2.864745 
L 4.408389 6.067627 
L 2.724534 0.885255 
L 7.132924 -2.317627 
L 1.683855 -2.317627 
z
" transform="translate(525.594071 24.972547)" style="fill: #0000ff; fill-opacity: 0.3; stroke: #0000ff; stroke-opacity: 0.3; stroke-linejoin: bevel; stroke: #0000ff; stroke-opacity: 0.3; stroke-linejoin: bevel"/>
    </g>
   </g>
   <g id="patch_9">
    <path d="M 331.093117 236.032389 
L 331.093117 14.979757 
" style="fill: none; stroke: #000000; stroke-width: 0.8; stroke-linejoin: miter; stroke-linecap: square"/>
   </g>
   <g id="patch_10">
    <path d="M 554.17004 236.032389 
L 554.17004 14.979757 
" style="fill: none; stroke: #000000; stroke-width: 0.8; stroke-linejoin: miter; stroke-linecap: square"/>
   </g>
   <g id="patch_11">
    <path d="M 331.093117 236.032389 
L 554.17004 236.032389 
" style="fill: none; stroke: #000000; stroke-width: 0.8; stroke-linejoin: miter; stroke-linecap: square"/>
   </g>
   <g id="patch_12">
    <path d="M 331.093117 14.979757 
L 554.17004 14.979757 
" style="fill: none; stroke: #000000; stroke-width: 0.8; stroke-linejoin: miter; stroke-linecap: square"/>
   </g>
   <g id="text_33">
    <text style="font-size: 12px; font-family: 'DejaVu Sans', 'Liberation Sans', sans-serif; text-anchor: middle" x="442.631579" y="8.979757" transform="translate(442.631579 8.979757) rotate(-0) scale(1 1.05) translate(-442.631579 -8.979757)">Examplary gesture signal</text>
   </g>
   <g id="legend_2">
    <g id="patch_13">
     <path d="M 338.093117 81.692257 
L 484.566555 81.692257 
Q 486.566555 81.692257 486.566555 79.692257 
L 486.566555 21.979757 
Q 486.566555 19.979757 484.566555 19.979757 
L 338.093117 19.979757 
Q 336.093117 19.979757 336.093117 21.979757 
L 336.093117 79.692257 
Q 336.093117 81.692257 338.093117 81.692257 
z
" style="fill: #ffffff; opacity: 0.8; stroke: #cccccc; stroke-linejoin: miter"/>
    </g>
    <g id="line2d_60">
     <path d="M 340.093117 28.078195 
L 350.093117 28.078195 
L 360.093117 28.078195 
" style="fill: none; stroke-dasharray: 5.55,2.4; stroke-dashoffset: 0; stroke: #0000ff; stroke-opacity: 0.5; stroke-width: 1.5"/>
    </g>
    <g id="text_34">
     <text style="font-size: 10px; font-family: 'DejaVu Sans', 'Liberation Sans', sans-serif; text-anchor: start" x="368.093117" y="31.578195" transform="rotate(-0 368.093117 31.578195)">0: push example</text>
    </g>
    <g id="line2d_61">
     <path d="M 340.093117 42.75632 
L 350.093117 42.75632 
L 360.093117 42.75632 
" style="fill: none; stroke-dasharray: 5.55,2.4; stroke-dashoffset: 0; stroke: #ff0000; stroke-opacity: 0.5; stroke-width: 1.5"/>
    </g>
    <g id="text_35">
     <text style="font-size: 10px; font-family: 'DejaVu Sans', 'Liberation Sans', sans-serif; text-anchor: start" x="368.093117" y="46.25632" transform="rotate(-0 368.093117 46.25632)">1: swipe left example</text>
    </g>
    <g id="line2d_62">
     <path d="M 340.093117 57.434445 
L 350.093117 57.434445 
L 360.093117 57.434445 
" style="fill: none; stroke-dasharray: 5.55,2.4; stroke-dashoffset: 0; stroke: #008000; stroke-opacity: 0.5; stroke-width: 1.5"/>
    </g>
    <g id="text_36">
     <text style="font-size: 10px; font-family: 'DejaVu Sans', 'Liberation Sans', sans-serif; text-anchor: start" x="368.093117" y="60.934445" transform="rotate(-0 368.093117 60.934445)">2: swipe right example</text>
    </g>
    <g id="line2d_63">
     <path d="M 340.093117 72.11257 
L 350.093117 72.11257 
L 360.093117 72.11257 
" style="fill: none; stroke-dasharray: 5.55,2.4; stroke-dashoffset: 0; stroke: #ffa500; stroke-opacity: 0.5; stroke-width: 1.5"/>
    </g>
    <g id="text_37">
     <text style="font-size: 10px; font-family: 'DejaVu Sans', 'Liberation Sans', sans-serif; text-anchor: start" x="368.093117" y="75.61257" transform="rotate(-0 368.093117 75.61257)">3: no gesture example</text>
    </g>
   </g>
  </g>
 </g>
 <defs>
  <clipPath id="p7c5475c1c8">
   <rect x="42.91498" y="14.979757" width="223.157895" height="221.052632"/>
  </clipPath>
  <clipPath id="p5860978ac2">
   <rect x="331.093117" y="14.979757" width="223.076923" height="221.052632"/>
  </clipPath>
 </defs>
</svg>

</body></html>
